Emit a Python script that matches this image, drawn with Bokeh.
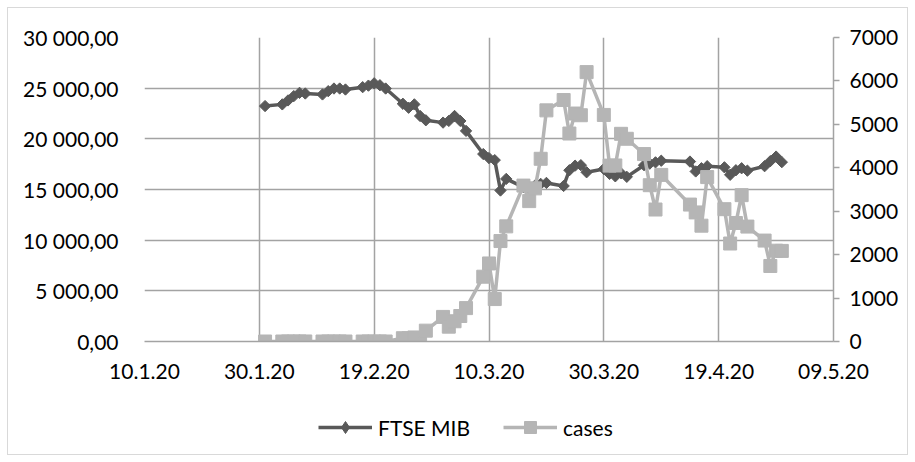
import numpy as np
import pandas as pd
from bokeh.plotting import figure
from bokeh.layouts import column
from bokeh.models import (Range1d, LinearAxis, FixedTicker, Legend, LegendItem,
                          ColumnDataSource)
from bokeh.embed import file_html
from bokeh.resources import INLINE

# ---------------- data ----------------
dates = [
    "2020-01-31",
    "2020-02-03", "2020-02-04", "2020-02-05", "2020-02-06", "2020-02-07",
    "2020-02-10", "2020-02-11", "2020-02-12", "2020-02-13", "2020-02-14",
    "2020-02-17", "2020-02-18", "2020-02-19", "2020-02-20", "2020-02-21",
    "2020-02-24", "2020-02-25", "2020-02-26", "2020-02-27", "2020-02-28",
    "2020-03-02", "2020-03-03", "2020-03-04", "2020-03-05", "2020-03-06",
    "2020-03-09", "2020-03-10", "2020-03-11", "2020-03-12", "2020-03-13",
    "2020-03-16", "2020-03-17", "2020-03-18", "2020-03-19", "2020-03-20",
    "2020-03-23", "2020-03-24", "2020-03-25", "2020-03-26", "2020-03-27",
    "2020-03-30", "2020-03-31", "2020-04-01", "2020-04-02", "2020-04-03",
    "2020-04-06", "2020-04-07", "2020-04-08", "2020-04-09",
    "2020-04-14", "2020-04-15", "2020-04-16", "2020-04-17",
    "2020-04-20", "2020-04-21", "2020-04-22", "2020-04-23", "2020-04-24",
    "2020-04-27", "2020-04-28", "2020-04-29", "2020-04-30",
]

ftse_mib = [
    23235,
    23400, 23790, 24215, 24540, 24475,
    24380, 24705, 24965, 24965, 24867,
    25100, 25250, 25480, 25290, 24965,
    23460, 23070, 23400, 22255, 21830,
    21600, 21765, 22255, 21765, 20785,
    18500, 18100, 17900, 14900, 16045,
    15230, 15065, 15390, 15555, 15650,
    15350, 16900, 17350, 17400, 16700,
    17025, 16535, 16300, 16600, 16250,
    17400, 17550, 17680, 17840,
    17760, 16780, 17100, 17300,
    17190, 16450, 16900, 17100, 16860,
    17300, 17800, 18250, 17700,
]

cases = [
    0,
    0, 0, 0, 0, 1,
    0, 0, 0, 0, 0,
    0, 0, 0, 0, 0,
    76, 74, 93, 78, 250,
    566, 342, 466, 587, 769,
    1492, 1797, 977, 2313, 2651,
    3590, 3233, 3526, 4207, 5322,
    5560, 4789, 5249, 5210, 6203,
    5217, 4050, 4053, 4782, 4668,
    4316, 3599, 3039, 3836,
    3153, 2972, 2667, 3786,
    3047, 2256, 2729, 3370, 2646,
    2324, 1739, 2091, 2086,
]

x_tick_dates = ["2020-01-10", "2020-01-30", "2020-02-19", "2020-03-10",
                "2020-03-30", "2020-04-19", "2020-05-09"]
x_tick_labels = ["10.1.20", "30.1.20", "19.2.20", "10.3.20",
                 "30.3.20", "19.4.20", "09.5.20"]

left_ticks = [0, 5000, 10000, 15000, 20000, 25000, 30000]
left_labels = ["0,00", "5 000,00", "10 000,00", "15 000,00",
               "20 000,00", "25 000,00", "30 000,00"]

right_ticks = [0, 1000, 2000, 3000, 4000, 5000, 6000, 7000]
right_labels = ["0", "1000", "2000", "3000", "4000", "5000", "6000", "7000"]

series_names = ["FTSE MIB", "cases"]

# ---------------- style ----------------
FONT = "Lato"
FS = "21px"
DARK = "#595959"
LIGHT = "#b5b5b5"
GRID = "#a3a3a3"

src = ColumnDataSource(dict(date=pd.to_datetime(dates), ftse=ftse_mib, cases=cases))
xt = [int(pd.Timestamp(d).value // 10**6) for d in x_tick_dates]

# ---------------- main chart ----------------
p = figure(width=915, height=400, x_axis_type="datetime",
           x_range=Range1d(xt[0], xt[-1]),
           y_range=Range1d(left_ticks[0], left_ticks[-1]),
           output_backend="svg", toolbar_location=None,
           min_border_left=144, min_border_right=82,
           min_border_top=37, min_border_bottom=59)
p.extra_y_ranges = {"cases": Range1d(right_ticks[0], right_ticks[-1])}
p.outline_line_color = None
p.background_fill_color = "white"
p.border_fill_alpha = 0

xa = p.xaxis[0]
xa.ticker = FixedTicker(ticks=xt)
xa.major_label_overrides = dict(zip(xt, x_tick_labels))
xa.axis_line_color = GRID
xa.axis_line_width = 1.5
xa.major_tick_line_color = None
xa.minor_tick_line_color = None
xa.major_label_standoff = 16
xa.major_label_text_font = FONT
xa.major_label_text_font_size = FS
xa.major_label_text_color = "black"

ya = p.yaxis[0]
ya.ticker = FixedTicker(ticks=left_ticks)
ya.major_label_overrides = dict(zip(left_ticks, left_labels))
ya.axis_line_color = None
ya.major_tick_line_color = None
ya.minor_tick_line_color = None
ya.major_label_standoff = 20
ya.major_label_text_font = FONT
ya.major_label_text_font_size = FS
ya.major_label_text_color = "black"

ra = LinearAxis(y_range_name="cases", ticker=FixedTicker(ticks=right_ticks))
ra.major_label_overrides = dict(zip(right_ticks, right_labels))
ra.axis_line_color = GRID
ra.axis_line_width = 1.5
ra.major_tick_line_color = GRID
ra.major_tick_line_width = 1.5
ra.major_tick_in = 0
ra.major_tick_out = 6
ra.minor_tick_line_color = None
ra.major_label_standoff = 10
ra.major_label_text_font = FONT
ra.major_label_text_font_size = FS
ra.major_label_text_color = "black"
p.add_layout(ra, "right")

p.xgrid.grid_line_color = GRID
p.xgrid.grid_line_width = 1.5
p.ygrid.grid_line_color = GRID
p.ygrid.grid_line_width = 1.5

p.line("date", "ftse", source=src, line_color=DARK, line_width=3.5)
p.scatter("date", "ftse", source=src, marker="square", angle=np.pi / 4,
          size=8, fill_color=DARK, line_color=DARK)
p.line("date", "cases", source=src, line_color=LIGHT, line_width=3.5,
       y_range_name="cases")
p.scatter("date", "cases", source=src, marker="square", size=13,
          fill_color=LIGHT, line_color=LIGHT, y_range_name="cases")

# ---------------- legend strip ----------------
p2 = figure(width=915, height=62, x_range=Range1d(0, 1), y_range=Range1d(0, 1),
            output_backend="svg", toolbar_location=None, min_border=0,
            x_axis_location=None, y_axis_location=None)
p2.grid.visible = False
p2.outline_line_color = None
p2.background_fill_alpha = 0
p2.border_fill_alpha = 0

# one off-range point per swatch renderer so the legend has a row to draw from
swatch = ColumnDataSource(dict(x=[-10], y=[-10]))
lf = p2.line("x", "y", source=swatch, line_color=DARK, line_width=3.5)
mf = p2.scatter("x", "y", source=swatch, marker="diamond", size=10,
                fill_color=DARK, line_color=DARK)
lc = p2.line("x", "y", source=swatch, line_color=LIGHT, line_width=3.5)
mc = p2.scatter("x", "y", source=swatch, marker="square", size=13,
                fill_color=LIGHT, line_color=LIGHT)

legend = Legend(items=[LegendItem(label=series_names[0], renderers=[lf, mf]),
                       LegendItem(label=series_names[1], renderers=[lc, mc])],
                location=(174, 20), orientation="horizontal",
                glyph_width=54, glyph_height=30, label_height=30,
                label_width=96, label_standoff=6, spacing=29,
                padding=0, margin=0,
                border_line_color=None, background_fill_alpha=0,
                label_text_font=FONT, label_text_font_size=FS,
                label_text_color="black")
p2.add_layout(legend, "center")

layout = column(p, p2, spacing=0)
layout.styles = {"box-shadow": "inset 0 0 0 7px white, inset 0 0 0 8px #d9d9d9",
                 "background-color": "white"}

open("out.html", "w").write(file_html(layout, INLINE))
